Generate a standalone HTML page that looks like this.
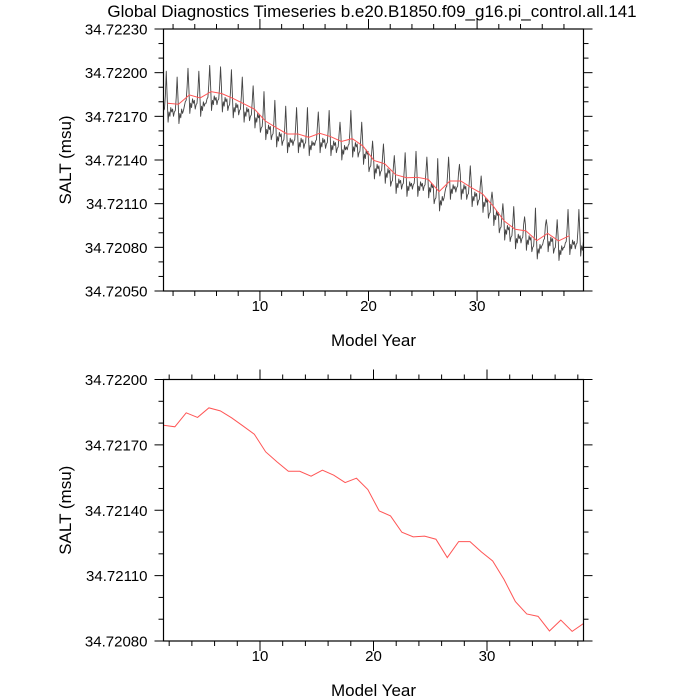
<!DOCTYPE html>
<html><head><meta charset="utf-8"><style>
html,body{margin:0;padding:0;background:#fff;}
svg{display:block;font-family:"Liberation Sans",Arial,sans-serif;}
</style></head><body>
<svg id="chart" width="700" height="700" viewBox="0 0 700 700">
<text x="372" y="17" font-size="17" text-anchor="middle">Global Diagnostics Timeseries b.e20.B1850.f09_g16.pi_control.all.141</text>
<g id="p1"></g>
<g id="p2"></g>
</svg>
<script>
// values in units of 1e-5 above 34.72000
const years = [1,2,3,4,5,6,7,8,9,10,11,12,13,14,15,16,17,18,19,20,21,22,23,24,25,26,27,28,29,30,31,32,33,34,35,36,37,38];
const annualSalt = [179,178.3,184.7,182.6,187,185.6,182.4,178.7,174.9,166.8,162.2,157.9,157.9,155.6,158.4,156.1,152.7,154.7,149.5,139.7,137.4,129.9,127.8,128.1,126.7,118.3,125.6,125.6,120.9,116.7,108.2,98.1,92.4,91.3,84.6,89.6,84.4,88];
const monthlySalt = [
171,174,175,184,201,183,166,173,170,176,173,175,
170,173,174,183,197,182,165,172,169,175,172,174,
177,180,181,190,203,189,172,179,176,182,179,181,
175,178,179,188,201,187,170,177,174,180,177,179,
179,182,183,192,205,191,174,181,178,184,181,183,
178,181,182,191,204,190,173,180,177,183,180,182,
174,177,178,187,202,186,169,176,173,179,176,178,
171,174,175,184,197,183,166,173,170,176,173,175,
167,170,171,180,191,179,162,169,166,172,169,171,
159,162,163,172,187,171,154,161,158,164,161,163,
154,157,158,167,181,166,149,156,153,159,156,158,
150,153,154,163,177,162,145,152,149,155,152,154,
150,153,154,163,176,162,145,152,149,155,152,154,
148,151,152,161,176,160,143,150,147,153,150,152,
150,153,154,163,173,162,145,152,149,155,152,154,
148,151,152,161,174,160,143,150,147,153,150,152,
145,148,149,158,166,157,140,147,144,150,147,149,
147,150,151,160,174,159,142,149,146,152,149,151,
142,145,146,155,166,154,137,144,141,147,144,146,
132,135,136,145,153,144,127,134,131,137,134,136,
129,132,133,142,151,141,124,131,128,134,131,133,
122,125,126,135,143,134,117,124,121,127,124,126,
120,123,124,133,145,132,115,122,119,125,122,124,
120,123,124,133,146,132,115,122,119,125,122,124,
119,122,123,132,142,131,114,121,118,124,121,123,
110,113,114,123,141,122,105,112,109,115,112,114,
118,121,122,131,142,130,113,120,117,123,120,122,
118,121,122,131,137,130,113,120,117,123,120,122,
113,116,117,126,136,125,108,115,112,118,115,117,
109,112,113,122,129,121,104,111,108,114,111,113,
100,103,104,113,118,112,95,102,99,105,102,104,
90,93,94,103,110,102,85,92,89,95,92,94,
84,87,88,97,108,96,79,86,83,89,86,88,
83,86,87,96,101,95,78,85,82,88,85,87,
77,80,81,90,107,89,72,79,76,82,79,81,
82,85,86,95,99,94,77,84,81,87,84,86,
76,79,80,89,99,88,71,78,75,81,78,80,
80,83,84,93,106,92,75,82,79,85,82,84,
79,82,83,92,106,91,74,81,78,84,81,83];
const topYTicks = ["34.72050","34.72080","34.72110","34.72140","34.72170","34.72200","34.72230"];
const botYTicks = ["34.72080","34.72110","34.72140","34.72170","34.72200"];
const xTicks = [10,20,30];

const NS="http://www.w3.org/2000/svg";
function mk(parent,tag,attrs){const e=document.createElementNS(NS,tag);for(const k in attrs)e.setAttribute(k,attrs[k]);parent.appendChild(e);return e;}

function panel(g,cfg){
  const {L,R,T,B,x0,x1,y0,y1,yTicks,minorY}=cfg;
  const sx=v=>L+(v-x0)/(x1-x0)*(R-L);
  const sy=v=>B-(v-y0)/(y1-y0)*(B-T);
  const clipId='c'+cfg.id;
  const cp=mk(g,'clipPath',{id:clipId});mk(cp,'rect',{x:L,y:T,width:R-L,height:B-T});
  const tk=mk(g,'g',{stroke:'#000','stroke-width':1});
  
  
  for(let v=2;v<=x1;v+=2){const x=sx(v);if(x<L||x>R)continue;const len=(v%10===0)?10:5;
    mk(tk,'line',{x1:x,x2:x,y1:B,y2:B+len});mk(tk,'line',{x1:x,x2:x,y1:T,y2:T-len});}
  for(let v=y0;v<=y1+0.01;v+=minorY){const y=sy(v);const maj=Math.abs(((v-y0)/30)-Math.round((v-y0)/30))<0.01;const len=maj?9:5;
    mk(tk,'line',{x1:L,x2:L-len,y1:y,y2:y});mk(tk,'line',{x1:R,x2:R+len,y1:y,y2:y});}
  yTicks.forEach(t=>{const v=(parseFloat(t)-34.72)*1e5;const el=mk(g,'text',{x:L-16,y:sy(v)+5.5,'font-size':15,'text-anchor':'end'});el.textContent=t;
    
    });
  xTicks.forEach(t=>{const el=mk(g,'text',{x:sx(t),y:B+20,'font-size':15,'text-anchor':'middle'});el.textContent=t;
    
    });
  const xl=mk(g,'text',{x:(L+R)/2,y:B+55,'font-size':17,'text-anchor':'middle'});xl.textContent='Model Year';
  
  
  const yl=mk(g,'text',{x:0,y:0,'font-size':17,'text-anchor':'middle',transform:`translate(71,${(T+B)/2}) rotate(-90)`});yl.textContent='SALT (msu)';
  
  
  const lines=mk(g,'g',{'clip-path':`url(#${clipId})`,fill:'none'});
  if(cfg.monthly){
    let d='';monthlySalt.forEach((v,i)=>{const x=1+Math.floor(i/12)+((i%12)+0.5)/12;d+=(i?'L':'M')+sx(x).toFixed(2)+','+sy(v).toFixed(2);});
    const p=mk(lines,'path',{d:d,stroke:'#444','stroke-width':0.9,'stroke-linejoin':'round'});
    
    
  }
  let d2='';annualSalt.forEach((v,i)=>{d2+=(i?'L':'M')+sx(years[i]+0.5).toFixed(2)+','+sy(v).toFixed(2);});
  const p2=mk(lines,'path',{d:d2,stroke:'#ff5555','stroke-width':1});
  
  
  const fr=mk(g,'rect',{x:L,y:T,width:R-L,height:B-T,fill:'none',stroke:'#000','stroke-width':1.2});
  
  
}
panel(document.getElementById('p1'),{id:1,L:163.5,R:583.5,T:29,B:291,x0:1.12,x1:39.8,y0:50,y1:230,yTicks:topYTicks,minorY:10,monthly:true});
panel(document.getElementById('p2'),{id:2,L:163.5,R:583.5,T:379.5,B:641,x0:1.5,x1:38.5,y0:80,y1:200,yTicks:botYTicks,minorY:10,monthly:false});
</script>
</body></html>
